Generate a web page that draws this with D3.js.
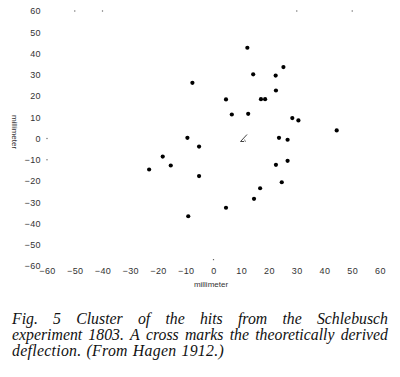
<!DOCTYPE html>
<html>
<head>
<meta charset="utf-8">
<script src="https://cdn.jsdelivr.net/npm/d3@7"></script>
<style>
  html, body { margin: 0; padding: 0; background: #fff; }
  svg { display: block; }
</style>
</head>
<body>
<svg id="chart" width="400" height="377"></svg>
<script>
// ---- data (millimetres) ----
const hitsX = [-7.6, 4.5, 6.6, 12.2, 25.2, 14.3, 22.4, 22.5, 17.1, 18.6, 12.5, 28.4, 30.6, 44.4,
               -9.4, -5.2, -18.3, -23.2, -15.4, -5.2, 4.5, -9.1, 23.6, 26.7, 26.7, 22.5, 24.6, 16.8, 14.6];
const hitsY = [26.2, 18.4, 11.3, 42.7, 33.6, 30.2, 29.6, 22.6, 18.5, 18.5, 11.6, 9.6, 8.5, 3.8,
               0.3, -3.8, -8.5, -14.6, -12.7, -17.7, -32.6, -36.6, 0.3, -0.6, -10.5, -12.4, -20.6, -23.4, -28.4];
const crossX = [11];
const crossY = [0];
const xTicks = [-60, -50, -40, -30, -20, -10, 0, 10, 20, 30, 40, 50, 60];
const yTicks = [60, 50, 40, 30, 20, 10, 0, -10, -20, -30, -40, -50, -60];
const speckX = [-50, -40, 30, 50, -60, -60, 0];
const speckY = [60, 60, 60, 60, 0, -10, -57];
const axisTitle = "millimeter";
const captionLines = [
  "Fig. 5 Cluster of the hits from the Schlebusch",
  "experiment 1803. A cross marks the theoretically derived",
  "deflection. (From Hagen 1912.)"
];

const svg = d3.select("#chart");
const x = d3.scaleLinear().domain([-60, 60]).range([47, 380]);
const y = d3.scaleLinear().domain([-60, 60]).range([266, 11]);

const tickFont = "Liberation Sans, Arial, sans-serif";

// x axis
const gx = svg.append("g").attr("transform", "translate(0,266)")
  .call(d3.axisBottom(x).tickValues(xTicks).tickSize(0).tickPadding(2).tickFormat(d3.format("d")));
gx.select(".domain").remove();
gx.selectAll("text").attr("font-family", tickFont).attr("font-size", 9)
  .attr("fill", "#333").attr("letter-spacing", "0.4px");

// y axis
const gy = svg.append("g").attr("transform", "translate(43,0)")
  .call(d3.axisLeft(y).tickValues(yTicks).tickSize(0).tickPadding(2).tickFormat(d3.format("d")));
gy.select(".domain").remove();
gy.selectAll("text").attr("font-family", tickFont).attr("font-size", 9)
  .attr("fill", "#333").attr("letter-spacing", "0.4px");

// axis titles
svg.append("text").attr("x", 211).attr("y", 287).attr("text-anchor", "middle")
  .attr("font-family", tickFont).attr("font-size", 8).attr("fill", "#333").text(axisTitle);
svg.append("text").attr("transform", "translate(12,132) rotate(90)").attr("text-anchor", "middle")
  .attr("font-family", tickFont).attr("font-size", 8).attr("fill", "#333").text(axisTitle);

// specks (faint tick remnants)
svg.append("g").selectAll("rect").data(speckX.map((d, i) => [d, speckY[i]])).join("rect")
  .attr("x", d => x(d[0]) - 0.6).attr("y", d => y(d[1]) - 0.6)
  .attr("width", 1.2).attr("height", 1.2).attr("fill", "#666");

// hits
svg.append("g").selectAll("circle").data(hitsX.map((d, i) => [d, hitsY[i]])).join("circle")
  .attr("cx", d => x(d[0])).attr("cy", d => y(d[1])).attr("r", 2.1).attr("fill", "#000");

// cross (theoretical deflection)
const cg = svg.append("g").selectAll("g").data(crossX.map((d, i) => [d, crossY[i]])).join("g")
  .attr("transform", d => `translate(${x(d[0])},${y(d[1])})`);
cg.append("line").attr("x1", -3.5).attr("y1", 3).attr("x2", 3).attr("y2", -4)
  .attr("stroke", "#444").attr("stroke-width", 1);
cg.append("line").attr("x1", -3.5).attr("y1", 3).attr("x2", 0).attr("y2", 3)
  .attr("stroke", "#444").attr("stroke-width", 1);
cg.append("line").attr("x1", 0.5).attr("y1", 1).attr("x2", 1.5).attr("y2", 3.5)
  .attr("stroke", "#666").attr("stroke-width", 0.8);

// caption, justified
const capFont = "Liberation Serif, Times New Roman, serif";
const left = 12, right = 388, baselines = [324, 340, 356];
captionLines.forEach((line, li) => {
  const words = line.split(" ");
  const g = svg.append("g");
  const nodes = words.map(w => g.append("text").attr("font-family", capFont)
    .attr("font-style", "italic").attr("font-size", 15.8).attr("fill", "#111")
    .attr("letter-spacing", li === 2 ? "0.3px" : "0px")
    .attr("y", baselines[li]).text(w));
  const widths = nodes.map(n => n.node().getComputedTextLength());
  const total = d3.sum(widths);
  const justify = li < captionLines.length - 1;
  const gap = justify ? Math.max(2, (right - left - total) / (words.length - 1)) : 5;
  let cx = left;
  nodes.forEach((n, i) => { n.attr("x", cx); cx += widths[i] + gap; });
});
</script>
</body>
</html>
